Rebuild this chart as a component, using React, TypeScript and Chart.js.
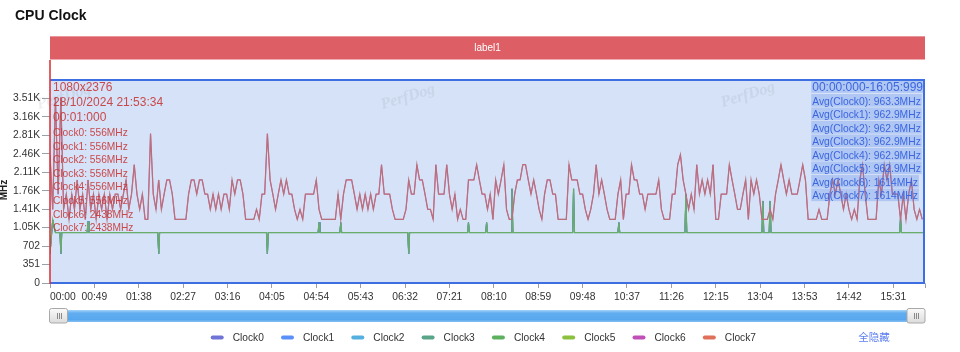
import React, { useEffect, useRef } from 'react';
import { Chart, registerables } from 'chart.js';

Chart.register(...registerables);

// ---------- content ----------
const TITLE = 'CPU Clock';
const BAND_LABEL = 'label1';
const Y_AXIS_NAME = 'MHz';
const HIDE_ALL_LABEL = '全隐藏';
const WATERMARK = 'PerfDog';

const SERIES_NAMES = ['Clock0', 'Clock1', 'Clock2', 'Clock3', 'Clock4', 'Clock5', 'Clock6', 'Clock7'];
const LEGEND_COLORS = ['#6f74d6', '#5b8ff9', '#55b0e0', '#5aa58a', '#5db05e', '#8cc03f', '#c050b8', '#e0705a'];

// Clock6/Clock7 (big cores), one sample every 3 s
const SAMPLE_INTERVAL_S = 3;
const bigClusterMHz = [
  2440, 1400, 3530, 1690, 3530, 1400, 1690, 1210, 1690, 1400,
  1960, 1400, 1690, 1210, 1960, 1400, 1690, 1210, 1690, 1400,
  1690, 1210, 1690, 1400, 1690, 1690, 1400, 1690, 1960, 1400,
  1690, 2250, 1690, 1400, 1690, 1210, 1210, 2840, 1690, 1400,
  1960, 1400, 1690, 1960, 1960, 1690, 1210, 1210, 1210, 1210,
  1210, 1690, 1960, 1960, 1690, 1960, 1960, 1690, 1690, 1400,
  1690, 1400, 1690, 1400, 1690, 1690, 1400, 1960, 1690, 1960,
  1960, 1690, 1210, 1210, 1210, 1210, 1400, 1210, 1690, 1690,
  2840, 1960, 1690, 1400, 1690, 1960, 1690, 1960, 1690, 1690,
  1400, 1210, 1400, 1210, 1690, 1690, 1690, 1690, 1960, 1400,
  1210, 1210, 1210, 1210, 1210, 1210, 1690, 1210, 1690, 1960,
  1960, 1960, 1690, 1400, 1690, 1400, 1690, 1400, 1690, 1400,
  1690, 1690, 2250, 1690, 1690, 1690, 1400, 1210, 1210, 1210,
  1210, 1400, 1960, 1690, 1690, 2250, 1960, 1960, 1690, 1400,
  1400, 1210, 2250, 1690, 1690, 1690, 2250, 1690, 1400, 1690,
  1210, 1400, 1210, 1210, 1960, 1960, 1960, 2250, 1960, 1690,
  1690, 1400, 1690, 1210, 1960, 1690, 1960, 2250, 1400, 1210,
  1210, 1690, 1960, 1960, 2250, 2250, 1960, 1690, 1960, 1690,
  1400, 1210, 1690, 1960, 1960, 1690, 1690, 1210, 1210, 1210,
  1210, 2250, 1960, 1960, 1960, 1690, 1690, 1400, 1210, 1400,
  1690, 2250, 1690, 1960, 1690, 1400, 1210, 1210, 1210, 1690,
  1960, 1210, 1690, 1690, 2250, 1960, 1960, 1690, 1690, 1400,
  1690, 1690, 1690, 1690, 1960, 1400, 1210, 1210, 1210, 1690,
  1690, 2250, 2440, 1960, 1690, 1400, 1690, 1400, 2250, 1690,
  1960, 1690, 1960, 1690, 2250, 1210, 1210, 1690, 1690, 1690,
  2250, 1960, 1690, 1400, 1400, 1690, 1960, 1210, 1960, 1690,
  1960, 1690, 1210, 1210, 1210, 1400, 1210, 1690, 1960, 2250,
  1960, 1690, 1960, 1690, 1690, 1690, 1960, 2250, 1960, 1210,
  1210, 1210, 1210, 1400, 1210, 1210, 1210, 1690, 1960, 1690,
  1960, 1690, 1400, 1690, 1400, 1210, 1400, 1210, 1960, 2250,
  1690, 1210, 1210, 1210, 1210, 1960, 1690, 2250, 1960, 2250,
  1690, 1690, 1690, 1210, 1690, 1210, 1690, 1960, 1400, 1210,
  1400, 1210,
];

// Clock0..Clock5 (little cores): sample times (s) and values
const littleClusterTimesS = [
  0, 3, 6, 11, 12, 13, 41, 42, 43, 119, 120, 121, 239, 240, 241, 296, 297, 298,
  320, 321, 322, 395, 396, 397, 461, 462, 463, 481, 482, 483, 509, 510, 511,
  577, 578, 579, 627, 628, 629, 701, 702, 703, 786, 787, 788, 794, 795, 796,
  938, 939, 940, 965,
];
const littleClusterMHz = [
  556, 1200, 960, 960, 556, 960, 960, 1170, 960, 960, 556, 960, 960, 556, 960, 960, 1150, 960,
  960, 1150, 960, 960, 556, 960, 960, 1150, 960, 960, 1150, 960, 960, 1790, 960,
  960, 1790, 960, 960, 1150, 960, 960, 1690, 960, 960, 1560, 960, 960, 1560, 960,
  960, 1240, 960, 960,
];

const X_MAX_S = 966;
const xTickSeconds = [0, 49, 98, 147, 196, 245, 294, 343, 392, 441, 490, 539, 588, 637, 686, 735, 784, 833, 882, 931, 966];
const xTickLabels = ['00:00', '00:49', '01:38', '02:27', '03:16', '04:05', '04:54', '05:43', '06:32', '07:21',
  '08:10', '08:59', '09:48', '10:37', '11:26', '12:15', '13:04', '13:53', '14:42', '15:31', ''];

const Y_MAX = 3861;
const yTickValues = [0, 351, 702, 1053, 1404, 1755, 2106, 2457, 2808, 3159, 3510];
const yTickLabels = ['0', '351', '702', '1.05K', '1.41K', '1.76K', '2.11K', '2.46K', '2.81K', '3.16K', '3.51K'];

const cursorInfo = ['1080x2376', '28/10/2024 21:53:34', '00:01:000'];
const cursorReadings = [
  'Clock0: 556MHz', 'Clock1: 556MHz', 'Clock2: 556MHz', 'Clock3: 556MHz',
  'Clock4: 556MHz', 'Clock5: 556MHz', 'Clock6: 2438MHz', 'Clock7: 2438MHz',
];
const rangeLabel = '00:00:000-16:05:999';
const avgLines = [
  'Avg(Clock0): 963.3MHz', 'Avg(Clock1): 962.9MHz', 'Avg(Clock2): 962.9MHz', 'Avg(Clock3): 962.9MHz',
  'Avg(Clock4): 962.9MHz', 'Avg(Clock5): 962.9MHz', 'Avg(Clock6): 1614MHz', 'Avg(Clock7): 1614MHz',
];

// ---------- style ----------
const FONT = 'Arial, "Liberation Sans", Helvetica, sans-serif';
const LINE_COLORS: Record<number, string> = { 4: '#6aad6a', 7: '#b9707b' };

function roundRect(ctx: CanvasRenderingContext2D, x: number, y: number, w: number, h: number, r: number) {
  ctx.beginPath();
  ctx.moveTo(x + r, y);
  ctx.lineTo(x + w - r, y);
  ctx.arcTo(x + w, y, x + w, y + r, r);
  ctx.lineTo(x + w, y + h - r);
  ctx.arcTo(x + w, y + h, x + w - r, y + h, r);
  ctx.lineTo(x + r, y + h);
  ctx.arcTo(x, y + h, x, y + h - r, r);
  ctx.lineTo(x, y + r);
  ctx.arcTo(x, y, x + r, y, r);
  ctx.closePath();
}

const decorPlugin = {
  id: 'decor',
  beforeDraw(chart: any) {
    const { ctx, chartArea: a } = chart;
    ctx.save();
    ctx.fillStyle = '#ffffff';
    ctx.fillRect(0, 0, chart.width, chart.height);
    // title
    ctx.fillStyle = '#111';
    ctx.font = `bold 14px ${FONT}`;
    ctx.textAlign = 'left';
    ctx.textBaseline = 'alphabetic';
    ctx.fillText(TITLE, 15, 20);
    // band
    ctx.fillStyle = '#dd5e64';
    ctx.fillRect(a.left, 36, a.right - a.left, 23.5);
    ctx.fillStyle = 'rgba(255,255,255,0.35)';
    ctx.fillRect(a.left, 36, a.right - a.left, 1);
    ctx.fillStyle = '#ffffff';
    ctx.font = `10px ${FONT}`;
    ctx.textAlign = 'center';
    ctx.textBaseline = 'middle';
    ctx.fillText(BAND_LABEL, (a.left + a.right) / 2, 48);
    // selected range fill
    ctx.fillStyle = '#d6e2f7';
    ctx.fillRect(a.left, a.top, a.right - a.left, a.bottom - a.top);
    // watermarks
    ctx.fillStyle = 'rgba(90,95,110,0.1)';
    ctx.font = `italic bold 16px "Liberation Serif", "DejaVu Serif", serif`;
    [[64, 97], [408, 97], [748, 95]].forEach(([cx, cy]) => {
      ctx.save();
      ctx.translate(cx, cy);
      ctx.rotate(-0.3);
      ctx.fillText(WATERMARK, 0, 0);
      ctx.restore();
    });
    ctx.restore();
  },
  afterDatasetsDraw(chart: any) {
    const { ctx, chartArea: a } = chart;
    ctx.save();
    // range borders
    ctx.strokeStyle = '#3d6fe3';
    ctx.lineWidth = 2;
    ctx.beginPath();
    ctx.moveTo(a.left, a.top); ctx.lineTo(a.right, a.top);
    ctx.moveTo(a.left, a.bottom); ctx.lineTo(a.right, a.bottom);
    ctx.moveTo(a.right - 1, a.top); ctx.lineTo(a.right - 1, a.bottom);
    ctx.stroke();
    // cursor line
    ctx.strokeStyle = '#d9383c';
    ctx.lineWidth = 1.6;
    ctx.beginPath();
    ctx.moveTo(a.left, 60); ctx.lineTo(a.left, a.bottom + 1);
    ctx.stroke();
    // cursor texts
    ctx.fillStyle = 'rgba(200,55,55,0.9)';
    ctx.textAlign = 'left';
    ctx.textBaseline = 'alphabetic';
    ctx.font = `12px ${FONT}`;
    cursorInfo.forEach((t, i) => ctx.fillText(t, 53, 91 + i * 15));
    ctx.font = `10.2px ${FONT}`;
    cursorReadings.forEach((t, i) => ctx.fillText(t, 53, 136 + i * 13.6));
    // range summary (right)
    ctx.font = `12px ${FONT}`;
    const w0 = ctx.measureText(rangeLabel).width;
    ctx.font = `10.3px ${FONT}`;
    const ws = avgLines.map((t) => ctx.measureText(t).width);
    const maxW = Math.max(w0, ...ws);
    const x0 = a.right - 2 - maxW;
    ctx.fillStyle = 'rgba(80,130,235,0.28)';
    ctx.fillRect(x0 - 1, a.top + 0.5, w0 + 2, 12.3);
    ws.forEach((w, i) => ctx.fillRect(x0 - 1, 94 + i * 13.5, w + 2, 12.6));
    ctx.fillStyle = '#3b66e0';
    ctx.font = `12px ${FONT}`;
    ctx.fillText(rangeLabel, x0, 90.5);
    ctx.font = `10.3px ${FONT}`;
    avgLines.forEach((t, i) => ctx.fillText(t, x0, 104.5 + i * 13.5));
    ctx.restore();
  },
  afterDraw(chart: any) {
    const { ctx, chartArea: a } = chart;
    ctx.save();
    // axis name
    ctx.fillStyle = '#222';
    ctx.font = `bold 10px ${FONT}`;
    ctx.textAlign = 'center';
    ctx.textBaseline = 'middle';
    ctx.translate(4.5, 190);
    ctx.rotate(-Math.PI / 2);
    ctx.fillText(Y_AXIS_NAME, 0, 0);
    ctx.setTransform(1, 0, 0, 1, 0, 0);
    // slider
    const sy = 310, sh = 12;
    const g = ctx.createLinearGradient(0, sy, 0, sy + sh);
    g.addColorStop(0, '#a6d3f8');
    g.addColorStop(0.25, '#62adf0');
    g.addColorStop(0.8, '#58a7ee');
    g.addColorStop(1, '#86c0f3');
    ctx.fillStyle = g;
    ctx.fillRect(a.left, sy, a.right - a.left, sh);
    [a.left - 0.5, a.right - 18].forEach((hx) => {
      const hg = ctx.createLinearGradient(0, 308, 0, 323);
      hg.addColorStop(0, '#fbfbfb');
      hg.addColorStop(1, '#dcdcdc');
      roundRect(ctx, hx, 308.5, 18, 14.5, 2);
      ctx.fillStyle = hg;
      ctx.fill();
      ctx.strokeStyle = '#a9a9a9';
      ctx.lineWidth = 1;
      ctx.stroke();
      ctx.strokeStyle = '#8a8a8a';
      ctx.beginPath();
      [-2, 0, 2].forEach((d) => {
        const lx = Math.round(hx + 9 + d) + 0.5;
        ctx.moveTo(lx, 313); ctx.lineTo(lx, 319);
      });
      ctx.stroke();
    });
    // legend
    ctx.font = `10.2px ${FONT}`;
    ctx.textAlign = 'left';
    ctx.textBaseline = 'middle';
    chart.data.datasets.forEach((ds: any, k: number) => {
      const lx = 210.7 + k * 70.3;
      roundRect(ctx, lx, 335.5, 13, 4, 2);
      ctx.fillStyle = ds.legendColor;
      ctx.fill();
      ctx.fillStyle = '#333';
      ctx.fillText(ds.label, lx + 22, 337.8);
    });
    ctx.fillStyle = '#5b7ff0';
    ctx.font = `10.5px "Noto Sans CJK SC", sans-serif`;
    ctx.textAlign = 'center';
    ctx.fillText(HIDE_ALL_LABEL, 874, 337.5);
    ctx.restore();
  },
};

export default function App() {
  const canvasRef = useRef<HTMLCanvasElement | null>(null);

  useEffect(() => {
    if (!canvasRef.current) return;
    const bigPoints = bigClusterMHz.map((v, i) => ({ x: i * SAMPLE_INTERVAL_S, y: v }));
    const littlePoints = littleClusterTimesS.map((t, i) => ({ x: t, y: littleClusterMHz[i] }));

    const datasets = SERIES_NAMES.map((name, k) => ({
      label: name,
      legendColor: LEGEND_COLORS[k],
      data: k < 6 ? littlePoints : bigPoints,
      borderColor: LINE_COLORS[k] ?? LEGEND_COLORS[k],
      backgroundColor: LEGEND_COLORS[k],
      borderWidth: LINE_COLORS[k] ? 1.25 : 0.8,
      pointRadius: 0,
      tension: 0,
      fill: false,
      order: k === 7 ? 0 : k === 4 ? 1 : k === 6 ? 2 : 3,
    }));

    const chart = new Chart(canvasRef.current, {
      type: 'line',
      data: { datasets } as any,
      options: {
        animation: false,
        responsive: true,
        maintainAspectRatio: false,
        devicePixelRatio: 1,
        layout: { padding: { left: 0, right: 35, top: 80, bottom: 0 } },
        plugins: {
          legend: { display: false },
          tooltip: { enabled: false },
          title: { display: false },
        },
        scales: {
          x: {
            type: 'linear',
            min: 0,
            max: X_MAX_S,
            afterFit: (s: any) => { s.height = 69; },
            afterBuildTicks: (s: any) => { s.ticks = xTickSeconds.map((v) => ({ value: v })); },
            ticks: {
              autoSkip: false,
              maxRotation: 0,
              minRotation: 0,
              align: 'inner',
              padding: 3,
              color: '#333',
              font: { family: FONT, size: 10.3 },
              callback: (_v: any, i: number) => xTickLabels[i] ?? '',
            },
            grid: { drawOnChartArea: false, drawTicks: true, tickLength: 5, color: '#9aa0a8' },
            border: { display: true, color: '#c0c4cc' },
          },
          y: {
            type: 'linear',
            min: 0,
            max: Y_MAX,
            afterFit: (s: any) => { s.width = 50; },
            afterBuildTicks: (s: any) => { s.ticks = yTickValues.map((v) => ({ value: v })); },
            ticks: {
              padding: 2,
              color: '#333',
              font: { family: FONT, size: 10.3 },
              callback: (_v: any, i: number) => yTickLabels[i] ?? '',
            },
            grid: { drawOnChartArea: false, drawTicks: true, tickLength: 8, color: '#9aa0a8' },
            border: { display: false },
          },
        },
      } as any,
      plugins: [decorPlugin],
    });
    return () => chart.destroy();
  }, []);

  return (
    <div style={{ position: 'fixed', left: 0, top: 0, width: 960, height: 352, background: '#fff' }}>
      <canvas ref={canvasRef} />
    </div>
  );
}
